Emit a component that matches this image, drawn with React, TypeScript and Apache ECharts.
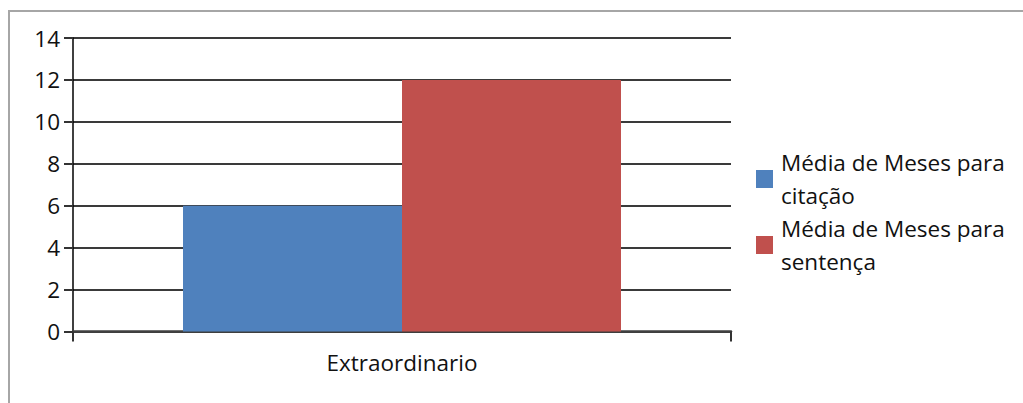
import React, { useEffect, useRef } from "react";
import * as echarts from "echarts";

// Categories and series values
const categories = ["Extraordinario"];
const seriesNames = ["Média de Meses para\ncitação", "Média de Meses para\nsentença"];
const citacaoValues = [6];
const sentencaValues = [12];
const seriesColors = ["#4f81bd", "#c0504d"];

// Value-axis range
const yMin = 0;
const yMax = 14;
const yStep = 2;

const FONT = "'Open Sans', sans-serif";
const FONT_SIZE = 22.5;

export default function App() {
  const ref = useRef<HTMLDivElement>(null);

  useEffect(() => {
    if (!ref.current) return;
    const chart = echarts.init(ref.current, undefined, { renderer: "svg" });
    chart.setOption({
      animation: false,
      backgroundColor: "#ffffff",
      graphic: [
        {
          type: "rect",
          shape: { x: 9, y: 11, width: 1200, height: 600 },
          style: { fill: "none", stroke: "#a6a6a6", lineWidth: 2 },
          silent: true,
          z: -1,
        },
      ],
      grid: { left: 73, right: 292, top: 38, bottom: 71.5 },
      legend: {
        orient: "vertical",
        left: 756,
        top: 146,
        padding: 0,
        itemGap: 0,
        itemWidth: 17,
        itemHeight: 18,
        icon: "rect",
        data: seriesNames,
        textStyle: {
          fontFamily: FONT,
          fontSize: FONT_SIZE,
          lineHeight: 33,
          color: "#111",
          padding: [0, 0, 0, 3],
        },
      },
      xAxis: {
        type: "category",
        data: categories,
        boundaryGap: true,
        axisLine: { lineStyle: { color: "#404040", width: 2.5 } },
        axisTick: { show: true, length: 10, lineStyle: { color: "#333", width: 2 } },
        axisLabel: { fontFamily: FONT, fontSize: FONT_SIZE, color: "#111", margin: 19 },
      },
      yAxis: {
        type: "value",
        min: yMin,
        max: yMax,
        interval: yStep,
        axisLine: { show: true, lineStyle: { color: "#000", width: 1.5 } },
        axisTick: { show: true, length: 9, lineStyle: { color: "#333", width: 2 } },
        axisLabel: { fontFamily: FONT, fontSize: FONT_SIZE, color: "#111", margin: 13 },
        splitLine: { lineStyle: { color: "#3a3a3a", width: 2 } },
      },
      series: [
        {
          name: seriesNames[0],
          type: "bar",
          data: citacaoValues,
          barWidth: 219,
          barGap: "0%",
          itemStyle: { color: seriesColors[0] },
        },
        {
          name: seriesNames[1],
          type: "bar",
          data: sentencaValues,
          barWidth: 219,
          barGap: "0%",
          itemStyle: { color: seriesColors[1] },
        },
      ],
    });
    return () => chart.dispose();
  }, []);

  return (
    <div
      ref={ref}
      style={{ position: "fixed", left: 0, top: 0, width: 1023, height: 403 }}
    />
  );
}
